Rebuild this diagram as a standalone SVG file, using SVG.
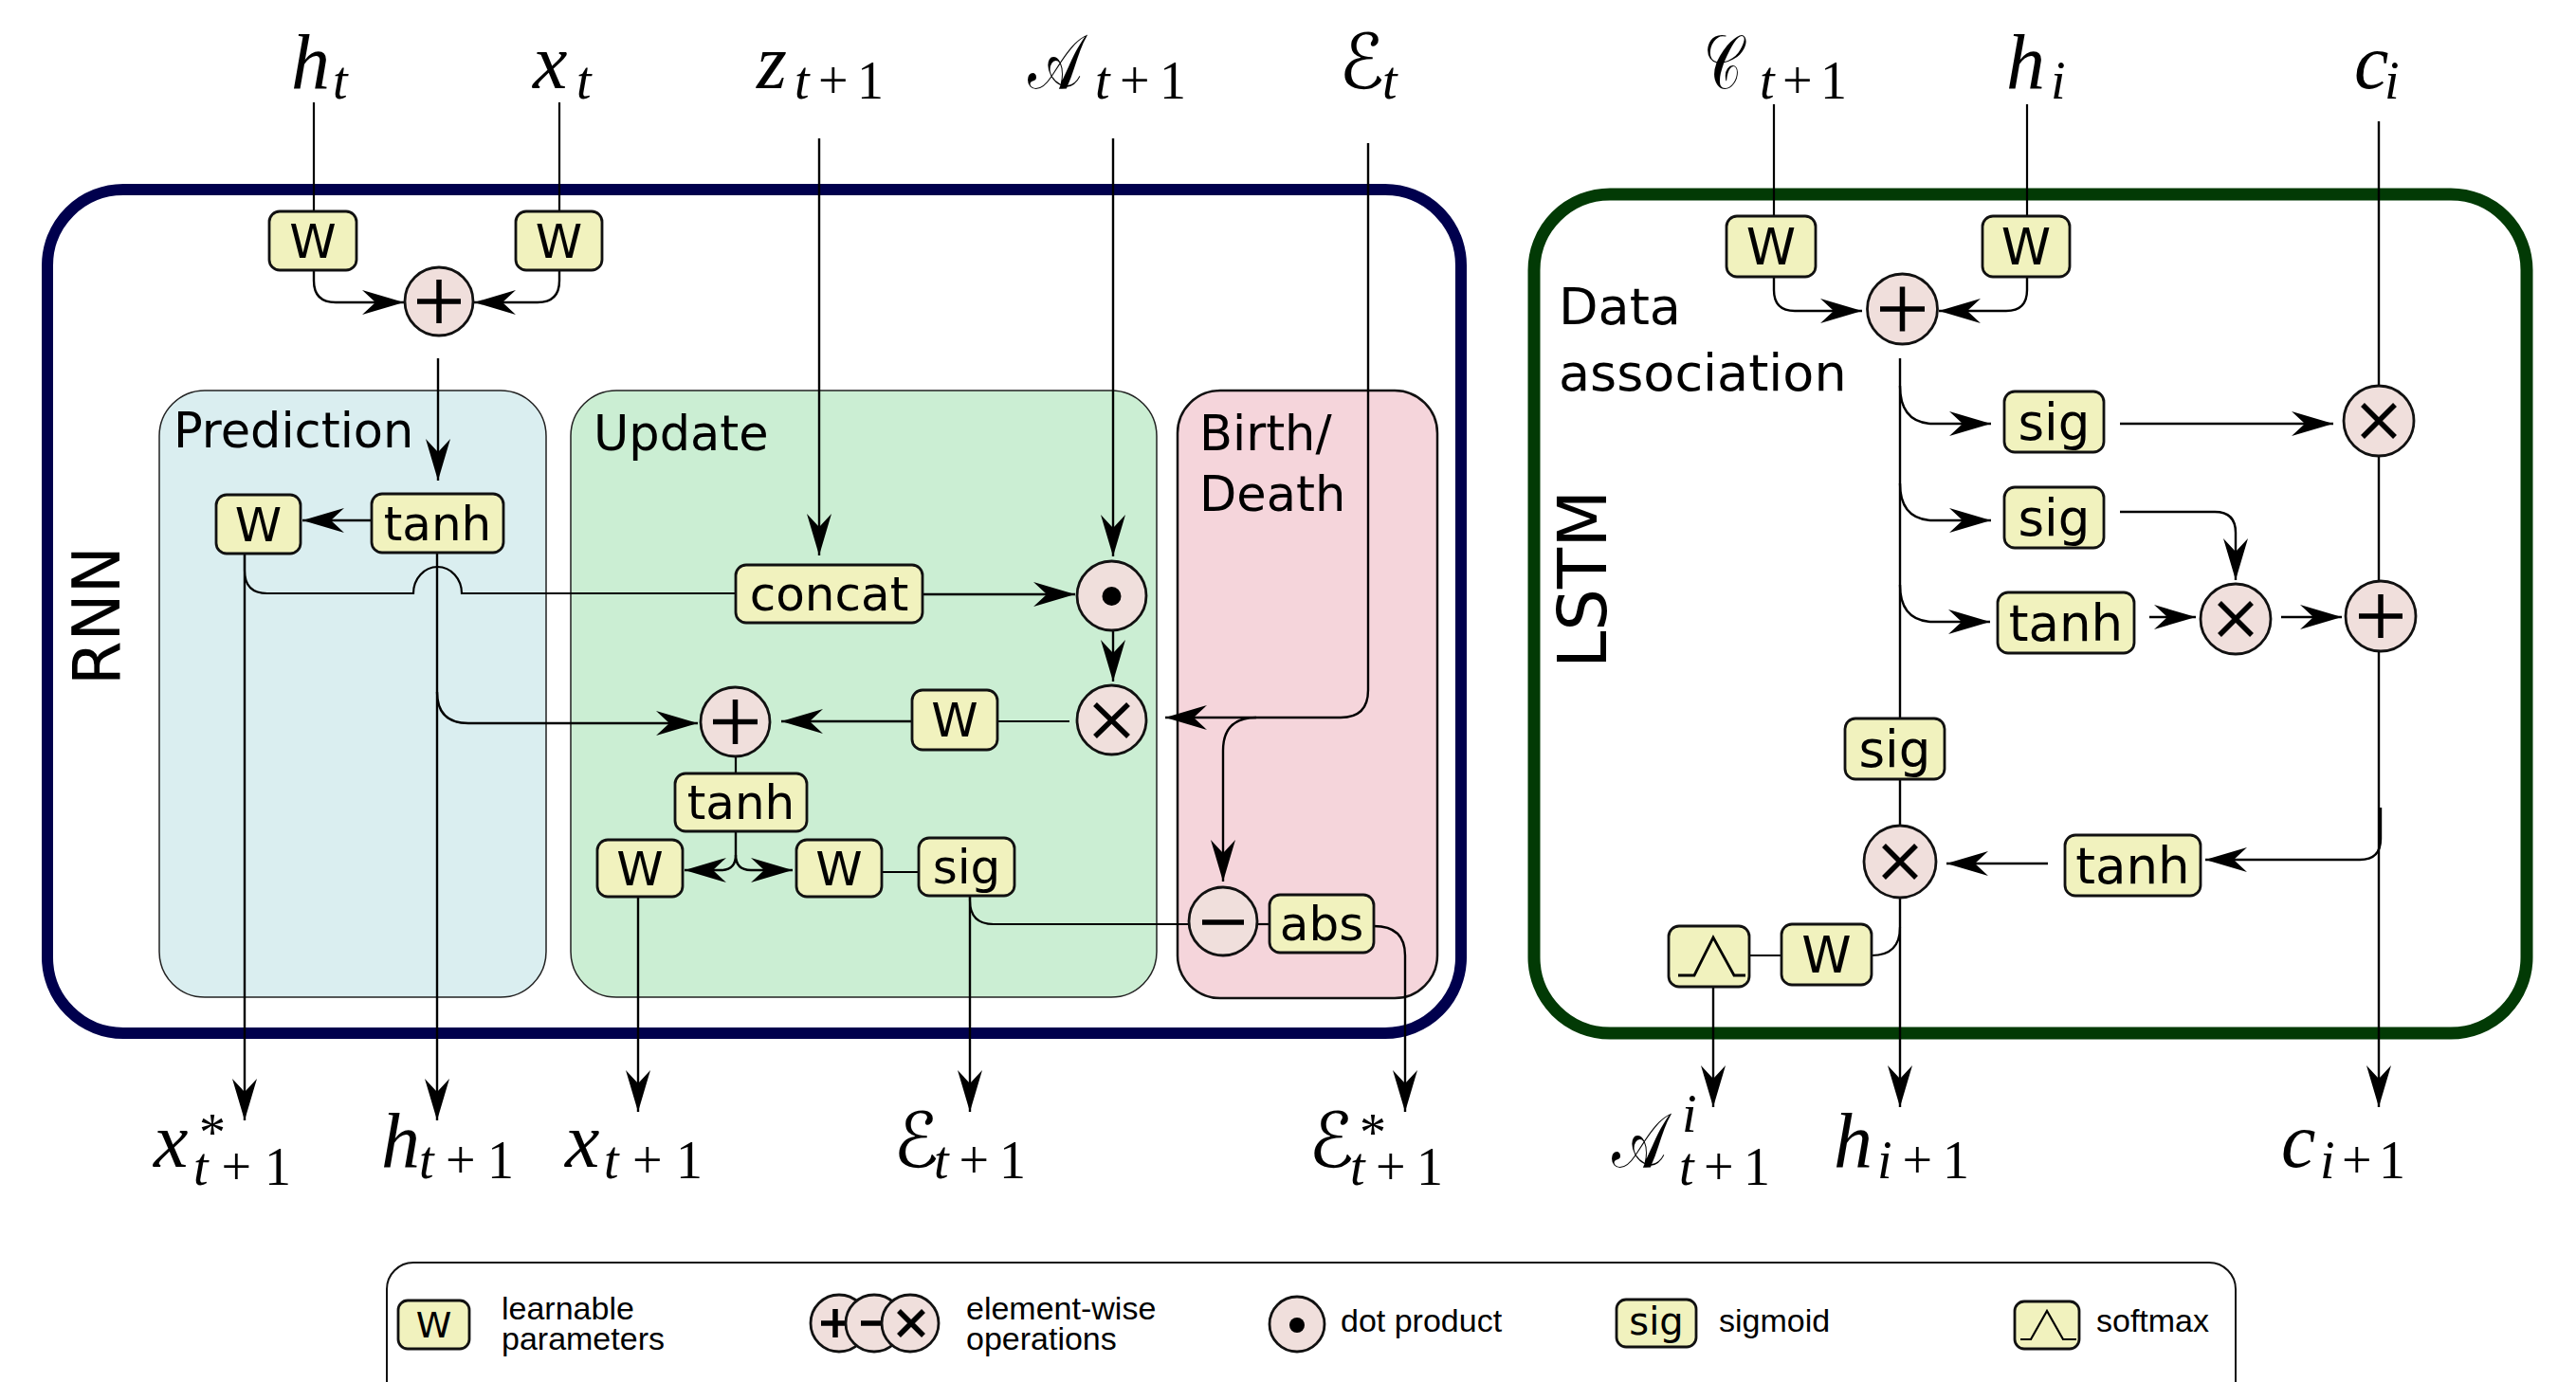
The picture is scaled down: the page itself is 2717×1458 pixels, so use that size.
<svg xmlns="http://www.w3.org/2000/svg" width="2717" height="1458" viewBox="0 0 2717 1458">
<defs>
<style>
.nb{fill:#f1f2be;stroke:#111;stroke-width:2.8}
.nc{fill:#f0dfdc;stroke:#111;stroke-width:2.8}
.nt{font-family:"DejaVu Sans",sans-serif;font-size:50px;text-anchor:middle;fill:#000}
.nt2{font-family:"DejaVu Sans",sans-serif;font-size:53px;text-anchor:middle;fill:#000}
.c{fill:none;stroke:#000;stroke-width:2.2}
.ca{fill:none;stroke:#000;stroke-width:2.4;marker-end:url(#ah)}
.sym{stroke:#000;stroke-width:5.5;fill:none}
.lbl{font-family:"DejaVu Sans",sans-serif;font-size:51px;fill:#000}
.m{font-family:"Liberation Serif","DejaVu Serif",serif;font-size:82px;font-style:italic;fill:#000}
.scr{font-family:"DejaVu Serif","DejaVu Sans","Noto Sans",serif;font-size:80px;font-style:normal;fill:#000}
.s{font-family:"Liberation Serif","DejaVu Serif",serif;font-size:56px;fill:#000}
.lg{font-family:"Liberation Sans",Arial,sans-serif;font-size:34px;fill:#000}
</style>
<marker id="ah" markerUnits="userSpaceOnUse" markerWidth="46" markerHeight="26" refX="44" refY="13" orient="auto" viewBox="0 0 46 26"><path d="M0,0 L44,13 L0,26 L14,13 Z" fill="#000"/></marker>
</defs>
<rect width="2717" height="1458" fill="#fff"/>

<!-- containers -->
<g id="containers">
<rect id="rnn-box" x="50" y="200" width="1491" height="890" rx="80" fill="none" stroke="#00004d" stroke-width="12"/>
<rect id="lstm-box" x="1618" y="205" width="1047" height="885" rx="80" fill="none" stroke="#023a05" stroke-width="13"/>
<rect id="prediction" x="168" y="412" width="408" height="640" rx="48" fill="#daeef0" stroke="#222" stroke-width="1.5"/>
<rect id="update" x="602" y="412" width="618" height="640" rx="48" fill="#cbeed3" stroke="#222" stroke-width="1.5"/>
<rect id="birthdeath" x="1242" y="412" width="274" height="641" rx="45" fill="#f5d5db" stroke="#111" stroke-width="2.5"/>
<text class="lbl" x="183" y="472">Prediction</text>
<text class="lbl" x="626" y="475">Update</text>
<text class="lbl" x="1265" y="475">Birth/</text>
<text class="lbl" x="1265" y="539">Death</text>
<text class="lbl" x="1644" y="342" style="font-size:54px">Data</text>
<text class="lbl" x="1644" y="412" style="font-size:54px">association</text>
<text class="lbl" transform="translate(126,723) rotate(-90)" style="font-size:70px" textLength="147" lengthAdjust="spacingAndGlyphs">RNN</text>
<text class="lbl" transform="translate(1694,705) rotate(-90)" style="font-size:72px" textLength="188" lengthAdjust="spacingAndGlyphs">LSTM</text>
</g>

<!-- connectors -->
<g id="connectors">
<path class="c" d="M331,108 V223"/>
<path class="c" d="M590,108 V223"/>
<path class="ca" d="M331,285 V296 Q331,319 354,319 H426"/>
<path class="ca" d="M590,285 V296 Q590,319 567,319 H500"/>
<path class="ca" d="M462,378 V507"/>
<path class="ca" d="M392,549 H319"/>
<path class="ca" d="M258,584 V1182"/>
<path class="c" d="M258,584 V602 Q258,626 282,626 H436 A25.5,28 0 0 1 487,626 H776"/>
<path class="ca" d="M461,583 V1182"/>
<path class="ca" d="M461,730 Q461,763 494,763 H736"/>
<path class="ca" d="M864,146 V586"/>
<path class="ca" d="M1174,146 V587"/>
<path class="ca" d="M973,627 H1134"/>
<path class="ca" d="M1174,665 V719"/>
<path class="c" d="M1128,761 H1052"/>
<path class="ca" d="M962,761 H824"/>
<path class="c" d="M776,798 V816"/>
<path class="ca" d="M776,877 V902 Q776,918 760,918 H722"/>
<path class="ca" d="M776,902 Q776,918 792,918 H836"/>
<path class="c" d="M930,920 H969"/>
<path class="ca" d="M673,946 V1173"/>
<path class="ca" d="M1023,945 V1173"/>
<path class="c" d="M1023,945 V950 Q1023,975 1048,975 H1254"/>
<path class="ca" d="M1443,151 V728 Q1443,757 1414,757 H1229"/>
<path class="ca" d="M1325,757 Q1290,757 1290,792 V930"/>
<path class="c" d="M1326,975 H1339"/>
<path class="ca" d="M1449,977 Q1482,977 1482,1008 V1173"/>

<path class="c" d="M1871,110 V228"/>
<path class="c" d="M2138,110 V228"/>
<path class="ca" d="M2509,128 V1168"/>
<path class="ca" d="M1871,292 V306 Q1871,328 1893,328 H1964"/>
<path class="ca" d="M2138,292 V306 Q2138,328 2116,328 H2045"/>
<path class="ca" d="M2004,378 V1168"/>
<path class="ca" d="M2004,407 Q2004,447 2040,447 H2100"/>
<path class="ca" d="M2004,510 Q2004,549 2040,549 H2100"/>
<path class="ca" d="M2004,617 Q2004,656 2040,656 H2099"/>
<path class="ca" d="M2236,447 H2461"/>
<path class="ca" d="M2236,540 H2336 Q2358,540 2358,562 V612"/>
<path class="ca" d="M2267,651 H2316"/>
<path class="ca" d="M2406,651 H2470"/>
<path class="ca" d="M2511,852 V885 Q2511,907 2489,907 H2326"/>
<path class="ca" d="M2160,911 H2053"/>
<path class="c" d="M2004,978 Q2004,1008 1974,1008"/>
<path class="c" d="M1879,1008 H1845"/>
<path class="ca" d="M1807,1041 V1168"/>
</g>

<!-- RNN nodes -->
<g id="rnn-w-ht"><rect class="nb" x="284" y="223" width="92" height="62" rx="11"/><text class="nt" x="330" y="272">W</text></g>
<g id="rnn-w-xt"><rect class="nb" x="544" y="223" width="91" height="62" rx="11"/><text class="nt" x="589.5" y="272">W</text></g>
<g id="rnn-plus-in"><circle class="nc" cx="463" cy="318" r="36"/><path class="sym" d="M440,318 H486 M463,295 V341"/></g>
<g id="pred-w"><rect class="nb" x="228" y="522" width="89" height="62" rx="11"/><text class="nt" x="272.5" y="571">W</text></g>
<g id="pred-tanh"><rect class="nb" x="392" y="521" width="139" height="62" rx="11"/><text class="nt" x="461.5" y="570">tanh</text></g>
<g id="upd-concat"><rect class="nb" x="776" y="596" width="197" height="61" rx="11"/><text class="nt" x="874.5" y="644">concat</text></g>
<g id="upd-dot"><circle class="nc" cx="1172.5" cy="628.5" r="36.5"/><circle cx="1172.5" cy="629" r="10" fill="#000"/></g>
<g id="upd-times"><circle class="nc" cx="1172.5" cy="759.5" r="36.5"/><path class="sym" d="M1155,743 L1190,777 M1190,743 L1155,777"/></g>
<g id="upd-w-mid"><rect class="nb" x="962" y="728" width="90" height="63" rx="11"/><text class="nt" x="1007" y="777">W</text></g>
<g id="upd-plus"><circle class="nc" cx="775.5" cy="761.5" r="36.5"/><path class="sym" d="M752,761.5 H799 M775.5,738 V785"/></g>
<g id="upd-tanh"><rect class="nb" x="712" y="816" width="139" height="61" rx="11"/><text class="nt" x="781.5" y="864">tanh</text></g>
<g id="upd-w-left"><rect class="nb" x="630" y="886" width="90" height="60" rx="11"/><text class="nt" x="675" y="934">W</text></g>
<g id="upd-w-right"><rect class="nb" x="840" y="886" width="90" height="60" rx="11"/><text class="nt" x="885" y="934">W</text></g>
<g id="upd-sig"><rect class="nb" x="969" y="884" width="101" height="61" rx="11"/><text class="nt" x="1019.5" y="932">sig</text></g>
<g id="bd-minus"><circle class="nc" cx="1290" cy="972" r="36"/><path class="sym" d="M1268,973 H1312" stroke-width="7"/></g>
<g id="bd-abs"><rect class="nb" x="1339" y="944" width="110" height="61" rx="11"/><text class="nt" x="1394" y="992">abs</text></g>

<!-- LSTM nodes -->
<g id="lstm-w-c"><rect class="nb" x="1821" y="228" width="94" height="64" rx="11"/><text class="nt2" x="1868" y="279">W</text></g>
<g id="lstm-w-h"><rect class="nb" x="2091" y="228" width="92" height="64" rx="11"/><text class="nt2" x="2137" y="279">W</text></g>
<g id="lstm-plus-in"><circle class="nc" cx="2006.5" cy="326" r="37"/><path class="sym" d="M1983,326 H2030 M2006.5,302.5 V349.5"/></g>
<g id="lstm-sig1"><rect class="nb" x="2114" y="413" width="105" height="64" rx="11"/><text class="nt2" x="2166.5" y="464">sig</text></g>
<g id="lstm-sig2"><rect class="nb" x="2114" y="514" width="105" height="64" rx="11"/><text class="nt2" x="2166.5" y="565">sig</text></g>
<g id="lstm-tanh"><rect class="nb" x="2107" y="625" width="144" height="64" rx="11"/><text class="nt2" x="2179" y="676">tanh</text></g>
<g id="lstm-times-top"><circle class="nc" cx="2509" cy="444" r="37"/><path class="sym" d="M2492,427 L2526,461 M2526,427 L2492,461"/></g>
<g id="lstm-times-mid"><circle class="nc" cx="2358" cy="653" r="37"/><path class="sym" d="M2341,636 L2375,670 M2375,636 L2341,670"/></g>
<g id="lstm-plus-c"><circle class="nc" cx="2511" cy="650" r="37"/><path class="sym" d="M2488,650 H2534 M2511,627 V673"/></g>
<g id="lstm-tanh2"><rect class="nb" x="2178" y="881" width="143" height="64" rx="11"/><text class="nt2" x="2249.5" y="932">tanh</text></g>
<g id="lstm-sig-out"><rect class="nb" x="1946" y="758" width="105" height="64" rx="11"/><text class="nt2" x="1998.5" y="809">sig</text></g>
<g id="lstm-times-out"><circle class="nc" cx="2004" cy="909" r="38"/><path class="sym" d="M1987,892 L2021,926 M2021,892 L1987,926"/></g>
<g id="lstm-w-out"><rect class="nb" x="1879" y="975" width="95" height="64" rx="11"/><text class="nt2" x="1926.5" y="1026">W</text></g>
<g id="lstm-softmax"><rect class="nb" x="1760" y="977" width="85" height="64" rx="11"/><polyline points="1770,1029 1787,1029 1807,989 1829,1029 1841,1029" fill="none" stroke="#000" stroke-width="2.8"/></g>

<!-- math labels -->
<g id="labels">
<text class="m" x="307" y="93">h</text><text class="s" x="351" y="104" font-style="italic">t</text>
<text class="m" x="562" y="93">x</text><text class="s" x="608" y="104" font-style="italic">t</text>
<text class="m" x="798" y="93">z</text><text class="s" x="838" y="104" textLength="94" lengthAdjust="spacing"><tspan font-style="italic">t</tspan>+1</text>
<text class="scr" x="1084" y="93" textLength="58" lengthAdjust="spacingAndGlyphs">&#x1D49C;</text><text class="s" x="1155" y="104" textLength="96" lengthAdjust="spacing"><tspan font-style="italic">t</tspan>+1</text>
<text class="scr" x="1412" y="93">&#x2130;</text><text class="s" x="1458" y="104" font-style="italic">t</text>
<text class="scr" x="1797" y="93" textLength="40" lengthAdjust="spacingAndGlyphs">&#x1D49E;</text><text class="s" x="1856" y="104" textLength="92" lengthAdjust="spacing"><tspan font-style="italic">t</tspan>+1</text>
<text class="m" x="2116" y="93">h</text><text class="s" x="2163" y="104" font-style="italic">i</text>
<text class="m" x="2483" y="93">c</text><text class="s" x="2515" y="104" font-style="italic">i</text>

<text class="m" x="162" y="1231">x</text><text class="s" x="210" y="1214">*</text><text class="s" x="204" y="1250" textLength="103" lengthAdjust="spacing"><tspan font-style="italic">t</tspan>+1</text>
<text class="m" x="402" y="1231">h</text><text class="s" x="442" y="1243" textLength="100" lengthAdjust="spacing"><tspan font-style="italic">t</tspan>+1</text>
<text class="m" x="596" y="1231">x</text><text class="s" x="637" y="1243" textLength="104" lengthAdjust="spacing"><tspan font-style="italic">t</tspan>+1</text>
<text class="scr" x="942" y="1231">&#x2130;</text><text class="s" x="985" y="1243" textLength="97" lengthAdjust="spacing"><tspan font-style="italic">t</tspan>+1</text>
<text class="scr" x="1380" y="1231">&#x2130;</text><text class="s" x="1434" y="1214">*</text><text class="s" x="1424" y="1250" textLength="98" lengthAdjust="spacing"><tspan font-style="italic">t</tspan>+1</text>
<text class="scr" x="1700" y="1231" textLength="58" lengthAdjust="spacingAndGlyphs">&#x1D49C;</text><text class="s" x="1774" y="1194" font-style="italic">i</text><text class="s" x="1771" y="1250" textLength="96" lengthAdjust="spacing"><tspan font-style="italic">t</tspan>+1</text>
<text class="m" x="1934" y="1231">h</text><text class="s" x="1980" y="1243" textLength="97" lengthAdjust="spacing"><tspan font-style="italic">i</tspan>+1</text>
<text class="m" x="2406" y="1231">c</text><text class="s" x="2447" y="1243" textLength="90" lengthAdjust="spacing"><tspan font-style="italic">i</tspan>+1</text>
</g>

<!-- legend -->
<g id="legend">
<rect x="408" y="1332" width="1950" height="200" rx="28" fill="none" stroke="#111" stroke-width="2"/>
<g id="leg-w"><rect class="nb" x="420" y="1372" width="75" height="51" rx="10" stroke-width="2.2"/><text class="nt" x="457.5" y="1411" style="font-size:38px">W</text></g>
<text class="lg" x="529" y="1392">learnable</text>
<text class="lg" x="529" y="1424">parameters</text>
<g id="leg-ops">
<circle class="nc" cx="885" cy="1396" r="30" stroke-width="2.2"/><path class="sym" d="M866,1396 H896 M881,1381 V1411" stroke-width="4.5"/>
<circle class="nc" cx="922" cy="1396" r="30" stroke-width="2.2"/><path class="sym" d="M908,1396 H935" stroke-width="5"/>
<circle class="nc" cx="960" cy="1396" r="30" stroke-width="2.2"/><path class="sym" d="M948,1383 L974,1409 M974,1383 L948,1409" stroke-width="4"/>
</g>
<text class="lg" x="1019" y="1392">element-wise</text>
<text class="lg" x="1019" y="1424">operations</text>
<g id="leg-dot"><circle class="nc" cx="1368" cy="1397" r="29" stroke-width="2.2"/><circle cx="1368" cy="1398" r="8" fill="#000"/></g>
<text class="lg" x="1414" y="1405">dot product</text>
<g id="leg-sig"><rect class="nb" x="1705" y="1371" width="84" height="50" rx="10" stroke-width="2.2"/><text class="nt" x="1747" y="1408" style="font-size:40px">sig</text></g>
<text class="lg" x="1813" y="1405">sigmoid</text>
<g id="leg-softmax"><rect class="nb" x="2125" y="1373" width="68" height="50" rx="10" stroke-width="2.2"/><polyline points="2131,1413 2142,1413 2159,1383 2176,1413 2190,1413" fill="none" stroke="#000" stroke-width="2.2"/></g>
<text class="lg" x="2211" y="1405">softmax</text>
</g>
</svg>
